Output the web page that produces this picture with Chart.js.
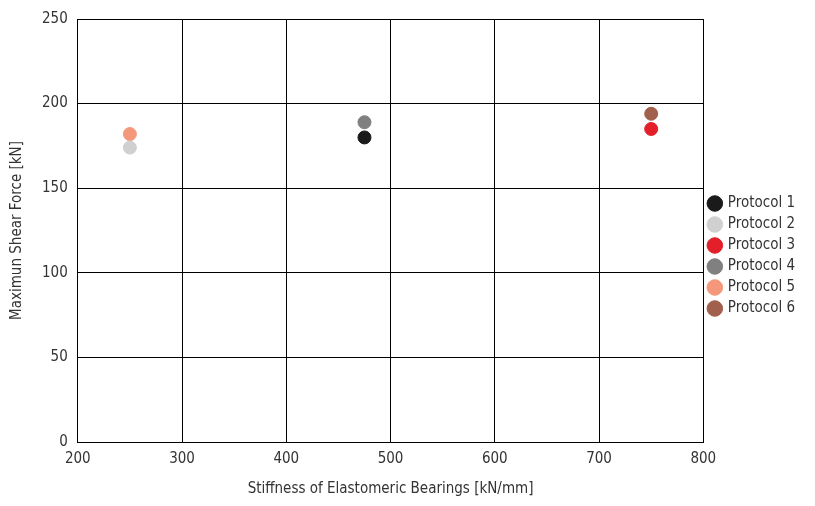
<!DOCTYPE html>
<html><head><meta charset="utf-8">
<script src="https://cdn.jsdelivr.net/npm/chart.js@4"></script>
<style>html,body{margin:0;padding:0;background:#fff}#w{width:815px;height:506px}</style>
</head><body><div id="w"><canvas id="c"></canvas></div>
<script>
const protocols = ["Protocol 1","Protocol 2","Protocol 3","Protocol 4","Protocol 5","Protocol 6"];
const stiffness = [475, 250, 750, 475, 250, 750];
const shearForce = [180, 174, 185, 189, 182, 194];
const colors = ["#1a1a1a","#d0d0d0","#e3202a","#808080","#f4977a","#a0604c"];
const xTicks = [200,300,400,500,600,700,800];
const yTicks = [0,50,100,150,200,250];
const F = "'DejaVu Sans Condensed','DejaVu Sans',sans-serif";
Chart.defaults.font.family = F;
Chart.defaults.color = "#333";
new Chart(document.getElementById('c'), {
  type: 'scatter',
  data: { datasets: protocols.map((p,i)=>({label:p, data:[{x:stiffness[i], y:shearForce[i]}],
    backgroundColor:colors[i], borderColor:colors[i], pointRadius:6.5, pointHoverRadius:6.5})) },
  options: {
    responsive:true, maintainAspectRatio:false, animation:false,
    layout:{padding:{top:10,right:10,bottom:4,left:4}},
    plugins:{ tooltip:{enabled:false},
      legend:{position:'right', labels:{usePointStyle:true, pointStyle:'circle', boxWidth:11, boxHeight:11, padding:6, font:{size:15}, color:'#333'}}},
    scales:{
      x:{min:200,max:800, afterBuildTicks:a=>{a.ticks=xTicks.map(v=>({value:v}))},
        grid:{color:'#000', lineWidth:1, drawTicks:false}, border:{color:'#000'},
        ticks:{padding:8, font:{size:15}},
        title:{display:true, text:'Stiffness of Elastomeric Bearings [kN/mm]', font:{size:15}, padding:{top:4}}},
      y:{min:0,max:250, afterBuildTicks:a=>{a.ticks=yTicks.map(v=>({value:v}))},
        grid:{color:'#000', lineWidth:1, drawTicks:false}, border:{color:'#000'},
        ticks:{padding:10, font:{size:15}},
        title:{display:true, text:'Maximun Shear Force [kN]', font:{size:15}, padding:{bottom:6}}}
    }
  }
});
</script></body></html>
